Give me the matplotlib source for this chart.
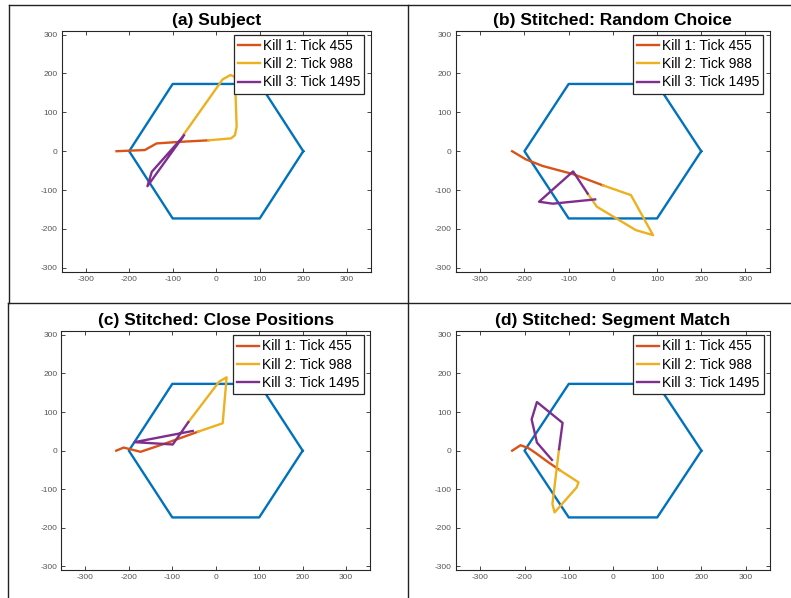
import numpy as np
import matplotlib
matplotlib.use('Agg')
import matplotlib.pyplot as plt
from matplotlib.lines import Line2D

plt.rcParams['font.family'] = ['Liberation Sans', 'DejaVu Sans']
plt.rcParams['axes.unicode_minus'] = False

W, H = 791, 598

# hexagon (map boundary)
hex_x = [200, 100, -100, -200, -100, 100, 200]
hex_y = [0, 173, 173, 0, -173, -173, 0]

labels = ['Kill 1: Tick 455', 'Kill 2: Tick 988', 'Kill 3: Tick 1495']
titles = ['(a) Subject', '(b) Stitched: Random Choice',
          '(c) Stitched: Close Positions', '(d) Stitched: Segment Match']

# (a) Subject
a_k1_x = [-229, -164, -137, -84, -18]
a_k1_y = [0, 3, 20, 24, 28]
a_k2_x = [-18, 34, 43, 47, 43, 33, 15, -76]
a_k2_y = [28, 33, 41, 63, 191, 196, 185, 41]
a_k3_x = [-74, -158, -148, -78]
a_k3_y = [41, -90, -53, 35]

# (b) Random Choice
b_k1_x = [-228, -197, -159, -90, -22]
b_k1_y = [0, -21, -38, -59, -88]
b_k2_x = [-22, 41, 91, 52, -36, -57]
b_k2_y = [-88, -113, -216, -203, -143, -109]
b_k3_x = [-57, -90, -167, -136, -40]
b_k3_y = [-109, -52, -130, -135, -124]

# (c) Close Positions
c_k1_x = [-229, -212, -173, -110, -41]
c_k1_y = [0, 8, -3, 21, 49]
c_k2_x = [-41, 16, 25, 8, -63]
c_k2_y = [49, 71, 190, 179, 74]
c_k3_x = [-63, -99, -187, -53]
c_k3_y = [74, 16, 22, 51]

# (d) Segment Match
d_k1_x = [-228, -209, -192, -175, -150, -121]
d_k1_y = [0, 14, 7, -6, -27, -50]
d_k2_x = [-121, -78, -82, -132, -137, -122]
d_k2_y = [-50, -82, -95, -160, -138, 4]
d_k3_x = [-122, -114, -172, -184, -172, -138]
d_k3_y = [4, 72, 126, 81, 21, -24]

panels = [
    [(a_k1_x, a_k1_y), (a_k2_x, a_k2_y), (a_k3_x, a_k3_y)],
    [(b_k1_x, b_k1_y), (b_k2_x, b_k2_y), (b_k3_x, b_k3_y)],
    [(c_k1_x, c_k1_y), (c_k2_x, c_k2_y), (c_k3_x, c_k3_y)],
    [(d_k1_x, d_k1_y), (d_k2_x, d_k2_y), (d_k3_x, d_k3_y)],
]

colors = ['#D95319', '#EDB120', '#7E2F8E']
hex_color = '#0072BD'

# axes boxes in pixels: left, top, right, bottom
boxes = [(61.7, 30.7, 370.7, 271.7),
         (456, 30.7, 769.7, 271.7),
         (61.5, 331, 370, 570.3),
         (456, 331, 770, 570.3)]

fig = plt.figure(figsize=(W / 100, H / 100), dpi=100)
fig.patch.set_facecolor('white')

for box, tracks, title in zip(boxes, panels, titles):
    l, t, r, b = box
    ax = fig.add_axes([l / W, 1 - b / H, (r - l) / W, (b - t) / H])
    ax.plot(hex_x, hex_y, color=hex_color, lw=1.7)
    for (x, y), c, lab in zip(tracks, colors, labels):
        ax.plot(x, y, color=c, lw=1.7, label=lab, solid_joinstyle='round')
    ax.set_xlim(-355, 355)
    ax.set_ylim(-310, 310)
    ax.set_xticks(np.arange(-300, 301, 100))
    ax.set_yticks(np.arange(-300, 301, 100))
    ax.tick_params(direction='in', top=True, right=True, length=3, width=0.6,
                   labelsize=6, colors='#262626', labelcolor='#555555', pad=3)
    for s in ax.spines.values():
        s.set_color('#262626')
        s.set_linewidth(0.8)
    ax.set_title(title, fontsize=12.5, fontweight='bold', pad=4)
    leg = ax.legend(loc='upper right', bbox_to_anchor=(1 - 6.4 / (r - l), 1 - 4.3 / (b - t)),
                    borderaxespad=0, fontsize=10, handlelength=1.6, handletextpad=0.2,
                    labelspacing=0.3, borderpad=0.3, fancybox=False, framealpha=1)
    leg.get_frame().set_edgecolor('#262626')
    leg.get_frame().set_linewidth(0.9)

# separator lines between panels
def sep(x0, y0, x1, y1):
    fig.add_artist(Line2D([x0 / W, x1 / W], [1 - y0 / H, 1 - y1 / H],
                          transform=fig.transFigure, color='#222222', lw=1.0))

sep(9, 5, W, 5)
sep(9, 5, 9, 303)
sep(8, 303, W, 303)
sep(8, 303, 8, H)
sep(408, 5, 408, H)

fig.savefig('out.png', dpi=100)
